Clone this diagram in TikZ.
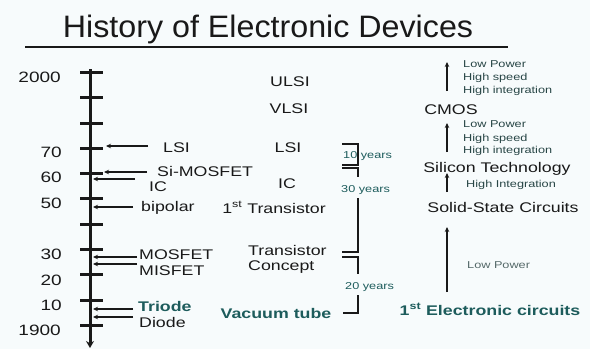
\documentclass[tikz,border=0pt]{standalone}
\usepackage{fontspec}
\setmainfont{Liberation Sans}[FakeStretch=1.27]
\newfontfamily\titlefont{Liberation Sans}[FakeStretch=1.04]
\usetikzlibrary{arrows.meta}
\definecolor{bg}{RGB}{247,251,252}
\definecolor{ink}{RGB}{25,25,25}
\definecolor{teal1}{RGB}{29,92,92}
\definecolor{small}{RGB}{40,70,70}
\definecolor{faint}{RGB}{85,105,105}
\begin{document}
\begin{tikzpicture}[x=1pt,y=-1pt,
  lab/.style={inner sep=0pt, anchor=base west, font=\fontsize{14}{16}\selectfont, text=ink},
  mid/.style={inner sep=0pt, anchor=base, font=\fontsize{14}{16}\selectfont, text=ink},
  num/.style={inner sep=0pt, anchor=base east, font=\fontsize{15}{17}\selectfont, text=ink},
  sm/.style={inner sep=0pt, anchor=base west, font=\fontsize{10}{12}\selectfont, text=small},
  yrs/.style={inner sep=0pt, anchor=base west, font=\fontsize{10}{12}\selectfont, text=teal1},
  bld/.style={inner sep=0pt, font=\fontsize{14}{16}\selectfont\bfseries, text=teal1},
  larr/.style={-{Stealth[length=5pt,width=4.5pt]}, line width=1.4pt, draw=ink},
  uarr/.style={-{Stealth[length=5pt,width=4.5pt]}, line width=1.6pt, draw=ink},
  brk/.style={line width=2pt, draw=ink},
  tickmark/.style={line width=3pt, draw=ink}]
\fill[bg] (0,0) rectangle (590,349);
\useasboundingbox (0,0) rectangle (590,349);

% title
\node[inner sep=0pt, anchor=base, font=\titlefont\fontsize{31}{34}\selectfont, text=ink] (title) at (268,37) {History of Electronic Devices};
\coordinate (ulL) at (25,47);
\coordinate (ulR) at (508,47);
\draw[line width=2pt, ink] (ulL) -- (ulR);

% timeline
\coordinate (ttop) at (90,69);
\coordinate (tbot) at (90,348);
\draw[line width=3pt, ink, -{Stealth[length=7pt,width=8pt]}] (ttop) -- (tbot);
\foreach \y in {72,97.5,123,148,173.3,198.6,224,249.3,274.6,300,325}
  \draw[tickmark] (80,\y) -- (103,\y);

% year numbers
\node[num] (n2000) at (61,82) {2000};
\node[num] (n70) at (62,157) {70};
\node[num] (n60) at (62,182) {60};
\node[num] (n50) at (62,208) {50};
\node[num] (n30) at (62,259) {30};
\node[num] (n20) at (62,285) {20};
\node[num] (n10) at (62,310) {10};
\node[num] (n1900) at (61,335) {1900};

% left labels
\node[lab] (lLSI) at (163,152) {LSI};
\node[lab] (lSiM) at (157,176) {Si-MOSFET};
\node[lab] (lIC) at (149,191) {IC};
\node[lab] (lbip) at (141,211) {bipolar};
\node[lab] (lMOS) at (139,259) {MOSFET};
\node[lab] (lMIS) at (139,275) {MISFET};
\node[bld, anchor=base west] (lTri) at (138,311) {Triode};
\node[lab] (lDio) at (139,327) {Diode};

\coordinate (hLSI) at (106,146);
\coordinate (hSiM) at (104,172);
\coordinate (hIC) at (93,179);
\coordinate (hbip) at (93,207);
\coordinate (hMOS) at (93,257);
\coordinate (hMIS) at (93,264);
\coordinate (hTri) at (93,309);
\coordinate (hDio) at (93,317);
\draw[larr] ([xshift=-15pt]lLSI.west |- hLSI) -- (hLSI);
\draw[larr] ([xshift=-10pt]lSiM.west |- hSiM) -- (hSiM);
\draw[larr] ([xshift=-14pt]lIC.west |- hIC) -- (hIC);
\draw[larr] ([xshift=-8pt]lbip.west |- hbip) -- (hbip);
\draw[larr] ([xshift=-2pt]lMOS.west |- hMOS) -- (hMOS);
\draw[larr] ([xshift=-2pt]lMIS.west |- hMIS) -- (hMIS);
\draw[larr] ([xshift=-5pt]lTri.west |- hTri) -- (hTri);
\draw[larr] ([xshift=-6pt]lDio.west |- hDio) -- (hDio);

% middle column
\node[mid] (mULSI) at (290,86) {ULSI};
\node[mid] (mVLSI) at (289,113) {VLSI};
\node[mid] (mLSI) at (288,152) {LSI};
\node[mid] (mIC) at (287,188) {IC};
\node[mid] (mTr1) at (274,213) {1\textsuperscript{st} Transistor};
\node[lab] (mTrC) at (248,255) {Transistor};
\node[lab] (mCon) at (248,270) {Concept};
\node[bld, anchor=base] (mVac) at (276,318) {Vacuum tube};

% brackets
\draw[brk] (342,144) -- (358,144) -- (358,165) -- (342,165);
\draw[brk] (342,168) -- (358,168) -- (358,177);
\draw[brk] (358,198) -- (358,252) -- (342,252);
\draw[brk] (342,257) -- (358,257) -- (358,274);
\draw[brk] (358,295) -- (358,313) -- (343,313);
\node[yrs] (y10) at (343,158) {10 years};
\node[yrs] (y30) at (341,192) {30 years};
\node[yrs] (y20) at (345,289) {20 years};

% right column
\node[sm] (g1a) at (463,67) {Low Power};
\node[sm] (g1b) at (463,80) {High speed};
\node[sm] (g1c) at (463,93) {High integration};
\node[mid] (rCMOS) at (451,114) {CMOS};
\node[sm] (g2a) at (463,127) {Low Power};
\node[sm] (g2b) at (463,141) {High speed};
\node[sm] (g2c) at (463,153) {High integration};
\node[mid] (rSi) at (497,172) {Silicon Technology};
\node[sm] (g3) at (466,187) {High Integration};
\node[mid] (rSS) at (503,212) {Solid-State Circuits};
\node[sm, text=faint] (g4) at (467,268) {Low Power};
\node[bld, anchor=base] (rEC) at (490,315) {1\textsuperscript{st} Electronic circuits};

\coordinate (a1s) at (447,91);  \coordinate (a1e) at (447,62);
\coordinate (a2s) at (447,152); \coordinate (a2e) at (447,123);
\coordinate (a3s) at (447,192); \coordinate (a3e) at (447,173);
\coordinate (a4s) at (447,292); \coordinate (a4e) at (447,227);
\draw[uarr] (a1s) -- (a1e);
\draw[uarr] (a2s) -- (a2e);
\draw[uarr] (a3s) -- (a3e);
\draw[uarr] (a4s) -- (a4e);
\end{tikzpicture}
\end{document}
